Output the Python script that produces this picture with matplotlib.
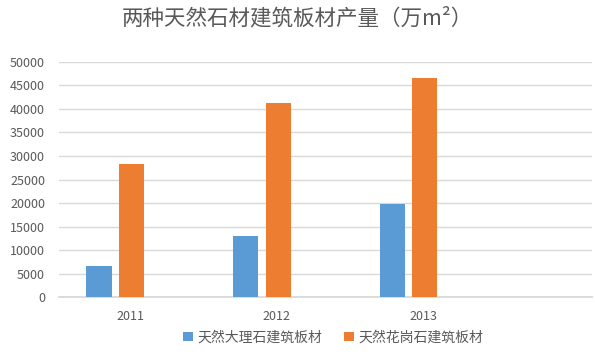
import matplotlib.pyplot as plt
import numpy as np

plt.rcParams['font.family'] = ['Noto Sans CJK SC', 'DejaVu Sans']

years = ["2011", "2012", "2013"]
marble = [6600, 12900, 19700]
granite = [28400, 41300, 46500]
series_names = ["天然大理石建筑板材", "天然花岗石建筑板材"]
title = "两种天然石材建筑板材产量（万m²）"

blue = "#5B9BD5"
orange = "#ED7D31"
grid_c = "#D9D9D9"
text_c = "#595959"

x = np.arange(len(years))
w = 0.172

fig = plt.figure(figsize=(5.95, 3.58), dpi=100)
ax = fig.add_axes([0.099, 0.170, 0.896, 0.657])

ax.bar(x - 0.212, marble, width=w, color=blue, label=series_names[0], zorder=3)
ax.bar(x + 0.01, granite, width=w, color=orange, label=series_names[1], zorder=3)

ax.set_ylim(0, 50000)
ax.set_yticks(range(0, 50001, 5000))
ax.set_xlim(-0.485, 3.15)
ax.set_xticks(x)
ax.set_xticklabels(years)

ax.yaxis.grid(True, color=grid_c, linewidth=1.0, zorder=0)
ax.set_axisbelow(True)
for s in ["top", "right", "left"]:
    ax.spines[s].set_visible(False)
ax.spines["bottom"].set_color(grid_c)
ax.spines["bottom"].set_linewidth(1.3)

ax.tick_params(axis="both", length=0, labelsize=9, labelcolor=text_c)
ax.tick_params(axis="y", pad=10)
ax.tick_params(axis="x", pad=9)

fig.text(0.5, 1 - 18 / 358, title, ha="center", va="center",
         fontsize=15.5, color=text_c)

fig.legend(loc="center", bbox_to_anchor=(0.56, 0.058), ncol=2, frameon=False,
           fontsize=10, labelcolor=text_c, handlelength=0.7, handleheight=0.7,
           handletextpad=0.3, columnspacing=1.6)

plt.savefig("out.png", dpi=100)
